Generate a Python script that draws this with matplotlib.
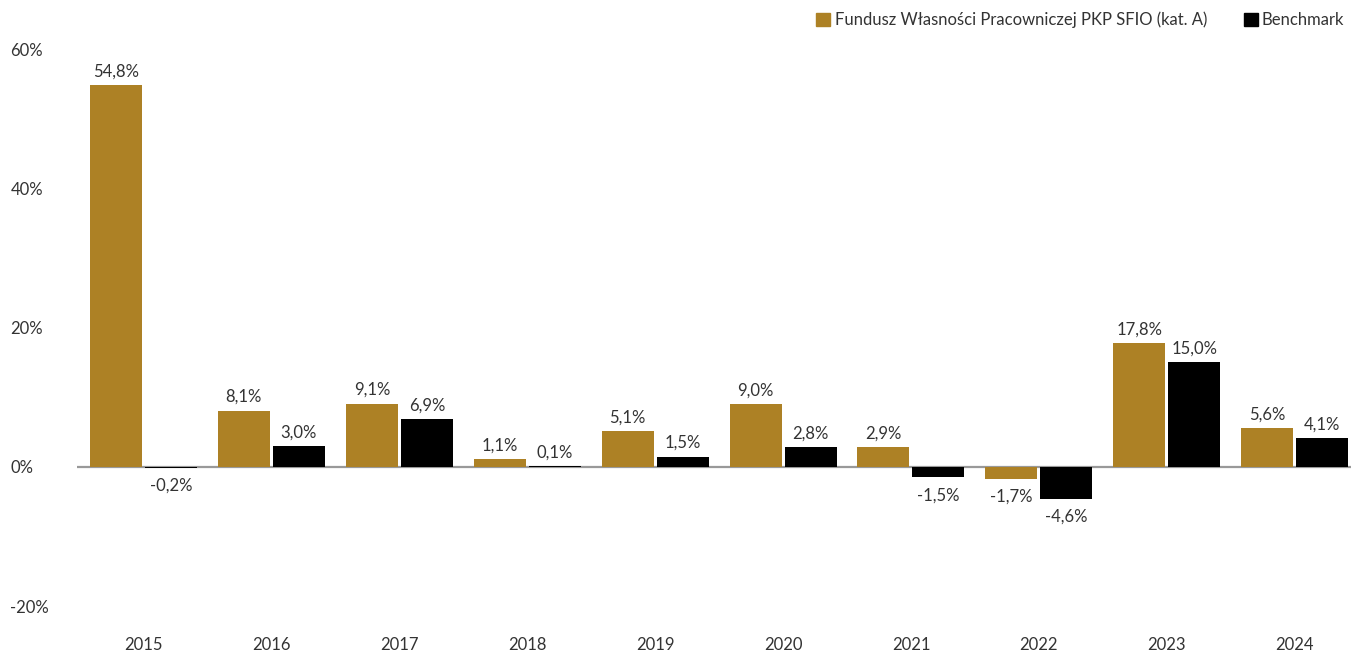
import numpy as np
import matplotlib.pyplot as plt
from matplotlib.patches import Patch

plt.rcParams['font.family'] = ['Lato', 'DejaVu Sans']

years = ["2015", "2016", "2017", "2018", "2019", "2020", "2021", "2022", "2023", "2024"]
fund = [54.8, 8.1, 9.1, 1.1, 5.1, 9.0, 2.9, -1.7, 17.8, 5.6]
benchmark = [-0.2, 3.0, 6.9, 0.1, 1.5, 2.8, -1.5, -4.6, 15.0, 4.1]
fund_label = "Fundusz Własności Pracowniczej PKP SFIO (kat. A)"
bench_label = "Benchmark"
yticks = [-20, 0, 20, 40, 60]

gold = "#ad8125"
black = "#000000"
text_col = "#333333"

fig = plt.figure(figsize=(13.51, 6.51), dpi=100)
ax = fig.add_axes([77 / 1351, 44.7 / 651, 1 - 77 / 1351, (602 - 44.7) / 651])

x = np.arange(len(years))
w = 0.4066
off = 0.215
b1 = ax.bar(x - off, fund, w, color=gold, zorder=2)
b2 = ax.bar(x + off, benchmark, w, color=black, zorder=2)

fs = 12
for bars, vals in [(b1, fund), (b2, benchmark)]:
    for rect, v in zip(bars, vals):
        txt = f"{v:.1f}%".replace(".", ",")
        xc = rect.get_x() + rect.get_width() / 2
        if v >= 0:
            ax.annotate(txt, (xc, v), xytext=(0, 4), textcoords="offset points",
                        ha="center", va="bottom", fontsize=fs, color=text_col)
        else:
            ax.annotate(txt, (xc, v), xytext=(0, -7), textcoords="offset points",
                        ha="center", va="top", fontsize=fs, color=text_col)

ax.axhline(0, color="#999999", lw=1.6, zorder=1)
ax.set_xlim(-0.52, 9.44)
ax.set_ylim(-20, 60)

for s in ax.spines.values():
    s.set_visible(False)

ax.set_yticks(yticks)
ax.set_yticklabels([f"{t}%" for t in yticks])
ax.tick_params(axis="y", length=0, pad=48, labelsize=fs, labelcolor=text_col)
for lab in ax.get_yticklabels():
    lab.set_horizontalalignment("left")

ax.set_xticks(x)
ax.set_xticklabels(years)
ax.tick_params(axis="x", length=0, pad=22, labelsize=fs, labelcolor=text_col)

handles = [Patch(color=gold, label=fund_label), Patch(color=black, label=bench_label)]
fig.legend(handles=handles, loc="upper right", bbox_to_anchor=(1.0, 0.992), ncol=2,
           frameon=False, fontsize=fs, labelcolor=text_col,
           handlelength=0.85, handleheight=0.85, handletextpad=0.25, columnspacing=2.2,
           borderpad=0.2, borderaxespad=0.2)

fig.savefig("out.png", dpi=100)
